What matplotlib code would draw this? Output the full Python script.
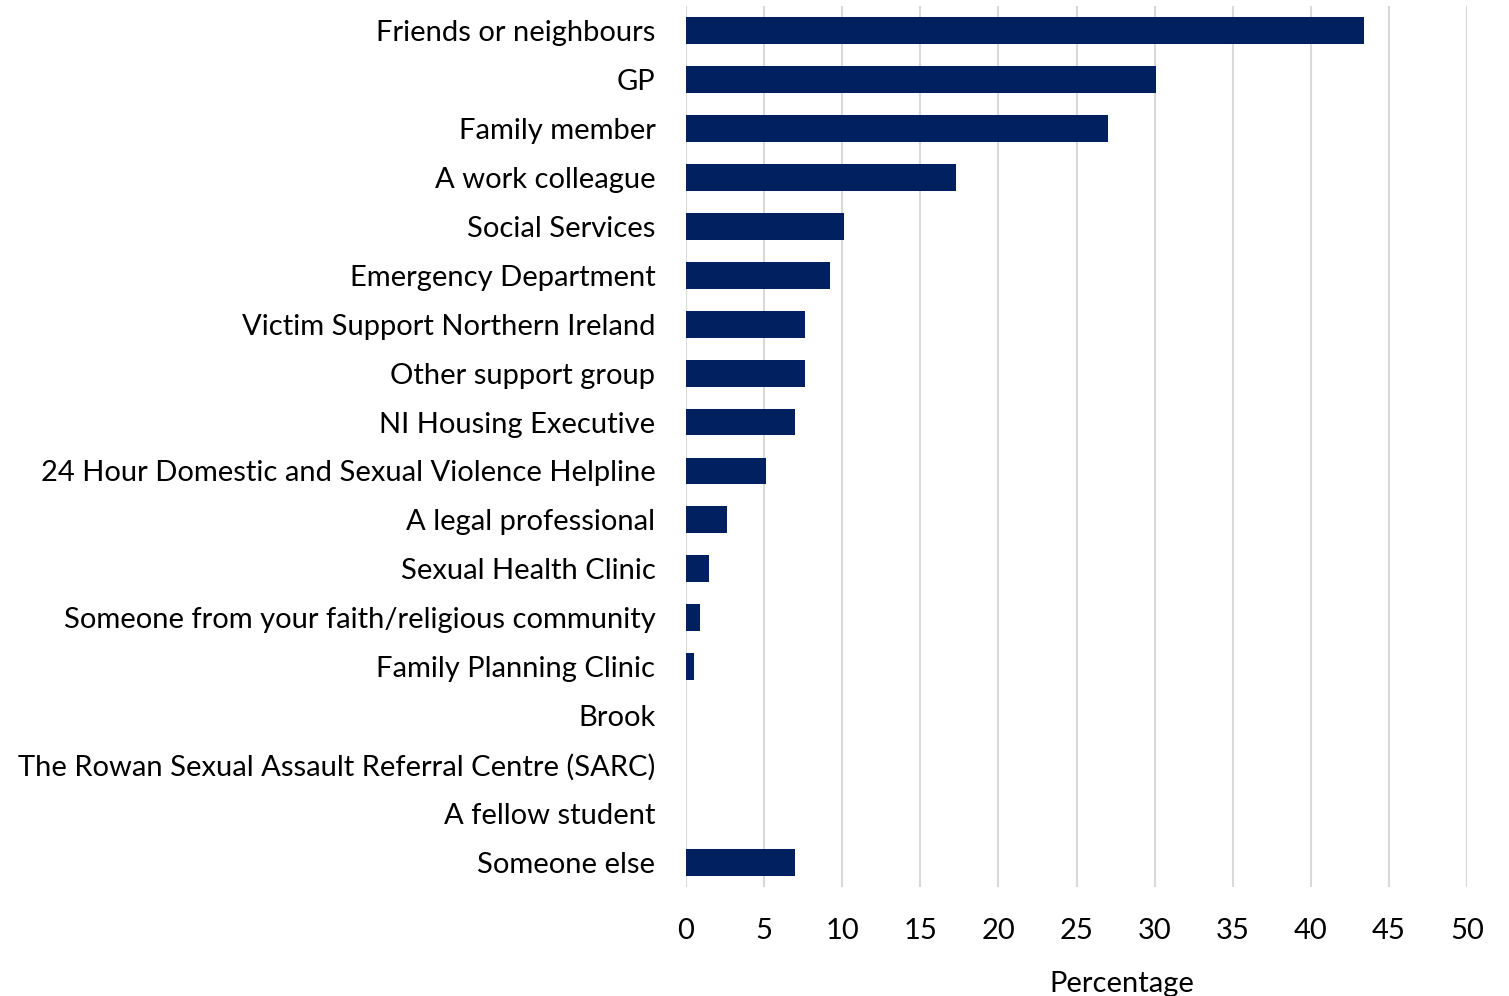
import matplotlib.pyplot as plt

plt.rcParams['font.family'] = ['Lato', 'DejaVu Sans']

CATEGORIES = [
    "Friends or neighbours",
    "GP",
    "Family member",
    "A work colleague",
    "Social Services",
    "Emergency Department",
    "Victim Support Northern Ireland",
    "Other support group",
    "NI Housing Executive",
    "24 Hour Domestic and Sexual Violence Helpline",
    "A legal professional",
    "Sexual Health Clinic",
    "Someone from your faith/religious community",
    "Family Planning Clinic",
    "Brook",
    "The Rowan Sexual Assault Referral Centre (SARC)",
    "A fellow student",
    "Someone else",
]
PERCENTAGES = [43.4, 30.1, 27.0, 17.3, 10.1, 9.2, 7.6, 7.6, 7.0, 5.1,
               2.6, 1.5, 0.9, 0.5, 0.0, 0.0, 0.0, 7.0]
X_TICKS = [0, 5, 10, 15, 20, 25, 30, 35, 40, 45, 50]

BAR_COLOR = "#002060"
GRID_COLOR = "#d9d9d9"

fig = plt.figure(figsize=(15.09, 9.96), dpi=100)
ax = fig.add_axes([686 / 1509, 1 - 887 / 996, (1467 - 686) / 1509, (887 - 6) / 996])

y = list(range(len(CATEGORIES)))
ax.barh(y, PERCENTAGES, height=0.55, color=BAR_COLOR, linewidth=0, zorder=3)

ax.set_ylim(len(CATEGORIES) - 0.5, -0.5)
ax.set_xlim(0, 50)
ax.set_xticks(X_TICKS)
ax.set_yticks(y)
ax.set_yticklabels(CATEGORIES)

ax.xaxis.grid(True, color=GRID_COLOR, linewidth=1.5, zorder=0)
ax.yaxis.grid(False)
for s in ax.spines.values():
    s.set_visible(False)

ax.tick_params(axis="both", length=0, labelsize=21, labelcolor="black")
ax.tick_params(axis="y", pad=22)
ax.tick_params(axis="x", pad=22)

ax.set_xlabel("Percentage", fontsize=21)
ax.xaxis.set_label_coords(0.558, -0.095)

fig.savefig("out.png", dpi=100)
